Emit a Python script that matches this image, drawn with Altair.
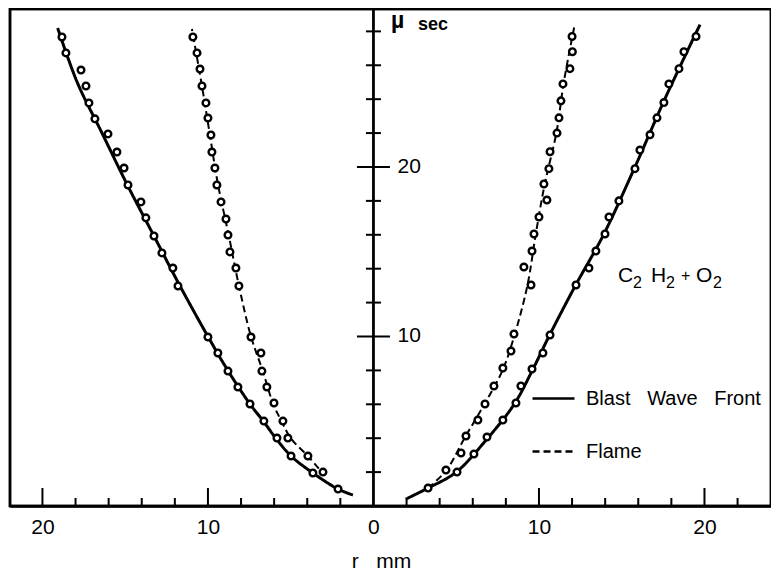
import altair as alt
import pandas as pd

# ---------------- data ----------------
# Right side, blast wave front measurements (r mm, t microseconds)
blast_right_r = [3.3, 5.05, 6.07, 6.86, 7.82, 8.61, 8.91, 9.58, 10.24, 10.67, 12.24, 13.02, 13.44,
                 13.99, 14.23, 14.83, 15.8, 16.1, 16.71, 17.13, 17.55, 17.85, 18.46, 18.76, 19.49]
blast_right_t = [1.06, 2.0, 3.07, 4.07, 5.07, 6.08, 7.08, 8.08, 9.03, 10.09, 13.04, 14.04, 15.04,
                 16.05, 17.05, 18.0, 19.9, 21.0, 21.9, 22.9, 23.8, 24.9, 25.8, 26.8, 27.7]
# Right side, flame measurements
flame_right_r = [4.38, 5.29, 5.59, 6.31, 6.74, 7.28, 7.82, 8.31, 8.49, 9.52, 9.09, 9.58, 9.7,
                 10.0, 10.48, 10.3, 10.6, 10.67, 11.09, 11.21, 11.33, 11.45, 11.87, 12.02, 12.0]
flame_right_t = [2.12, 3.13, 4.13, 5.07, 6.02, 7.08, 8.14, 9.14, 10.15, 13.04, 14.1, 15.04, 16.05,
                 17.05, 18.05, 19.0, 19.9, 20.9, 22.0, 22.9, 23.9, 24.9, 25.8, 26.8, 27.7]
# Left side, blast wave front measurements
blast_left_r = [-2.14, -3.66, -4.98, -5.83, -6.62, -7.46, -8.19, -8.79, -9.4, -10.0, -11.81, -12.12,
                -12.78, -13.26, -13.75, -14.05, -14.83, -15.07, -15.5, -16.04, -16.83, -17.19,
                -17.37, -17.67, -18.58, -18.82]
blast_left_t = [1.0, 1.95, 2.95, 4.01, 5.01, 6.02, 7.02, 7.96, 9.03, 9.97, 12.98, 14.04, 14.93,
                15.93, 17.0, 17.94, 18.94, 19.94, 20.88, 21.95, 22.84, 23.78, 24.78, 25.72, 26.73,
                27.67]
# Left side, flame measurements
flame_left_r = [-3.05, -3.96, -5.17, -5.47, -6.01, -6.44, -6.74, -6.8, -7.4, -8.13, -8.31, -8.67,
                -8.79, -8.91, -9.21, -9.46, -9.58, -9.76, -9.82, -10.0, -10.12, -10.36, -10.48,
                -10.66, -10.91]
flame_left_t = [2.0, 2.95, 4.01, 5.01, 6.08, 7.02, 7.96, 9.03, 9.97, 12.98, 14.04, 14.99, 15.99,
                16.93, 17.94, 18.94, 19.94, 20.88, 21.89, 22.89, 23.78, 24.78, 25.78, 26.73, 27.67]

# Smooth fitted curves drawn through the measurements
curve_blast_right_r = [1.96, 3.3, 5.0, 6.9, 8.5, 9.6, 10.6, 12.2, 13.9, 15.8, 17.6, 19.73]
curve_blast_right_t = [0.41, 1.06, 2.0, 4.0, 6.0, 8.0, 10.0, 13.0, 16.0, 20.0, 24.0, 28.4]
curve_flame_right_r = [3.3, 4.4, 5.5, 6.7, 7.8, 8.5, 9.3, 9.8, 10.35, 11.05, 11.5, 12.14]
curve_flame_right_t = [1.06, 2.1, 4.0, 6.0, 8.0, 10.0, 13.0, 16.0, 19.0, 22.0, 25.0, 28.3]
curve_blast_left_r = [-1.24, -2.14, -3.66, -4.98, -5.9, -6.65, -7.45, -8.8, -10.0, -11.7, -13.3,
                      -14.9, -16.4, -17.9, -19.08]
curve_blast_left_t = [0.65, 1.0, 1.95, 2.95, 4.0, 5.0, 6.0, 8.0, 10.0, 13.0, 16.0, 19.0, 22.0,
                      25.0, 28.2]
curve_flame_left_r = [-3.3, -3.96, -5.0, -5.55, -6.05, -6.7, -7.4, -8.13, -8.75, -9.4, -9.9,
                      -10.4, -10.97]
curve_flame_left_t = [2.2, 2.95, 4.0, 5.0, 6.0, 8.0, 10.0, 13.0, 16.0, 19.0, 22.0, 25.0, 28.14]

NB = "\u00a0"
series_names = ["Blast" + NB * 3 + "Wave" + NB * 3 + "Front", "Flame"]

x_label_values = [-20, -10, 0, 10, 20]
x_major_ticks = [-20, -10, 10, 20]
x_minor_ticks = [-18, -16, -14, -12, -8, -6, -4, -2, 2, 4, 6, 8, 12, 14, 16, 18, 22]
y_major_ticks = [10, 20]
y_minor_ticks = [2, 4, 6, 8, 12, 14, 16, 18, 22, 24, 26, 28]
y_label_values = [10, 20]

# unit label on the time axis
mu_label, mu_pos = "\u00b5", (1.06, 28.2)
sec_label, sec_pos = "sec", (2.69, 28.08)
# gas mixture label: pieces (text, pixel offset from anchor, baseline drop, size)
gas_pos = (14.77, 13.22)
gas_parts = ["C", "2", "H", "2", "+", "O", "2"]
gas_dx = [0, 15, 33, 48, 63, 78, 95]
gas_dy = [0, 6, 0, 6, -1, 0, 6]
gas_size = [21, 16, 21, 16, 16, 21, 16]

X_DOMAIN = [-21.96, 24.02]
Y_DOMAIN = [0, 29.32]
W, H = 761, 497
FONT = "Liberation Sans"

# ---------------- tables ----------------
pts = pd.concat([
    pd.DataFrame({"r": blast_right_r, "t": blast_right_t}),
    pd.DataFrame({"r": flame_right_r, "t": flame_right_t}),
    pd.DataFrame({"r": blast_left_r, "t": blast_left_t}),
    pd.DataFrame({"r": flame_left_r, "t": flame_left_t}),
], ignore_index=True)


def curve(rs, ts, name, cid):
    return pd.DataFrame({"r": rs, "t": ts, "series": name, "curve": cid,
                         "i": list(range(len(rs)))})


blast_curves = pd.concat([
    curve(curve_blast_right_r, curve_blast_right_t, series_names[0], "br"),
    curve(curve_blast_left_r, curve_blast_left_t, series_names[0], "bl"),
], ignore_index=True)
flame_curves = pd.concat([
    curve(curve_flame_right_r, curve_flame_right_t, series_names[1], "fr"),
    curve(curve_flame_left_r, curve_flame_left_t, series_names[1], "fl"),
], ignore_index=True)

xscale = alt.Scale(domain=X_DOMAIN, nice=False, zero=False)
yscale = alt.Scale(domain=Y_DOMAIN, nice=False, zero=False)

xaxis = alt.Axis(values=x_label_values, labelExpr="abs(datum.value)", ticks=False,
                 grid=False, domainColor="black", domainWidth=2.5,
                 labelFont=FONT, labelFontSize=21, labelColor="black",
                 labelPadding=10, title="r" + NB * 3 + "mm", titleFont=FONT,
                 titleFontSize=21, titleFontWeight="normal", titleColor="black",
                 titlePadding=13, titleX=371, titleAlign="center")

X = alt.X("r:Q", scale=xscale, axis=xaxis)
Y = alt.Y("t:Q", scale=yscale, axis=None)

dash = alt.StrokeDash("series:N",
                      scale=alt.Scale(domain=series_names, range=[[1, 0], [7, 4]]),
                      legend=alt.Legend(title=None, orient="none", legendX=521,
                                        legendY=367, symbolType="stroke",
                                        symbolSize=1764, symbolStrokeColor="black",
                                        labelFont=FONT, labelFontSize=20,
                                        labelColor="black", labelOffset=10,
                                        rowPadding=20, symbolStrokeWidth=2.5,
                                        labelLimit=400))

frame = alt.Chart(pd.DataFrame({"k": [0]})).mark_rect(
    fillOpacity=0, stroke="black", strokeWidth=2.5).encode(
    x=alt.value(0), x2=alt.value(W), y=alt.value(0), y2=alt.value(H))

blast_lines = alt.Chart(blast_curves).mark_line(
    interpolate="catmull-rom", color="black", strokeWidth=3).encode(
    x=X, y=Y, detail="curve:N", order="i:Q", strokeDash=dash)
flame_lines = alt.Chart(flame_curves).mark_line(
    interpolate="catmull-rom", color="black", strokeWidth=2).encode(
    x=X, y=Y, detail="curve:N", order="i:Q", strokeDash=dash)

points = alt.Chart(pts).mark_point(shape="circle", filled=True, fill="white", stroke="black",
                                   strokeWidth=2.4, size=44, opacity=1).encode(x=X, y=Y)

center_line = alt.Chart(pd.DataFrame({"r": [0]})).mark_rule(color="black", strokeWidth=2.8).encode(
    x=X, y=alt.value(0), y2=alt.value(H))

xmaj = alt.Chart(pd.DataFrame({"r": x_major_ticks})).mark_tick(
    orient="vertical", size=18, thickness=2, color="black", opacity=1).encode(
    x=X, y=alt.value(H - 9))
xmin = alt.Chart(pd.DataFrame({"r": x_minor_ticks})).mark_tick(
    orient="vertical", size=8, thickness=2, color="black", opacity=1).encode(
    x=X, y=alt.value(H - 4))

ymaj = alt.Chart(pd.DataFrame({"t": y_major_ticks, "r": 0})).mark_tick(
    orient="horizontal", size=33, thickness=2, color="black", opacity=1).encode(x=X, y=Y)
ymin = alt.Chart(pd.DataFrame({"t": y_minor_ticks, "r": 0})).mark_tick(
    orient="horizontal", size=15, thickness=2, color="black", opacity=1).encode(x=X, y=Y)

ylabels = alt.Chart(pd.DataFrame({"t": y_label_values, "r": 0,
                                  "lab": [str(v) for v in y_label_values]})).mark_text(
    align="left", baseline="middle", dx=24, font=FONT, fontSize=21, color="black").encode(
    x=X, y=Y, text="lab:N")

mu = alt.Chart(pd.DataFrame({"r": [mu_pos[0]], "t": [mu_pos[1]], "lab": [mu_label]})).mark_text(
    align="left", baseline="alphabetic", font=FONT, fontSize=23, fontWeight="bold",
    color="black").encode(x=X, y=Y, text="lab:N")
sec = alt.Chart(pd.DataFrame({"r": [sec_pos[0]], "t": [sec_pos[1]], "lab": [sec_label]})).mark_text(
    align="left", baseline="alphabetic", font=FONT, fontSize=18, fontWeight="bold",
    color="black").encode(x=X, y=Y, text="lab:N")

gas_df = pd.DataFrame({"r": [gas_pos[0]], "t": [gas_pos[1]]})
gas_layers = []
for part, ddx, ddy, fs in zip(gas_parts, gas_dx, gas_dy, gas_size):
    gas_layers.append(
        alt.Chart(gas_df.assign(lab=part)).mark_text(
            align="left", baseline="alphabetic", dx=ddx, dy=ddy, font=FONT, fontSize=fs,
            color="black").encode(x=X, y=Y, text="lab:N"))

chart = alt.layer(frame, center_line, xmaj, xmin, ymaj, ymin, blast_lines, flame_lines, points,
                  ylabels, mu, sec, *gas_layers).properties(
    width=W, height=H,
    padding={"left": 2, "top": 1, "right": 0, "bottom": 70},
    autosize=alt.AutoSizeParams(type="none"),
    background="white",
).configure_view(stroke="black", strokeWidth=2.5)

chart.save("out.html", embed_options={"renderer": "svg", "actions": False})
